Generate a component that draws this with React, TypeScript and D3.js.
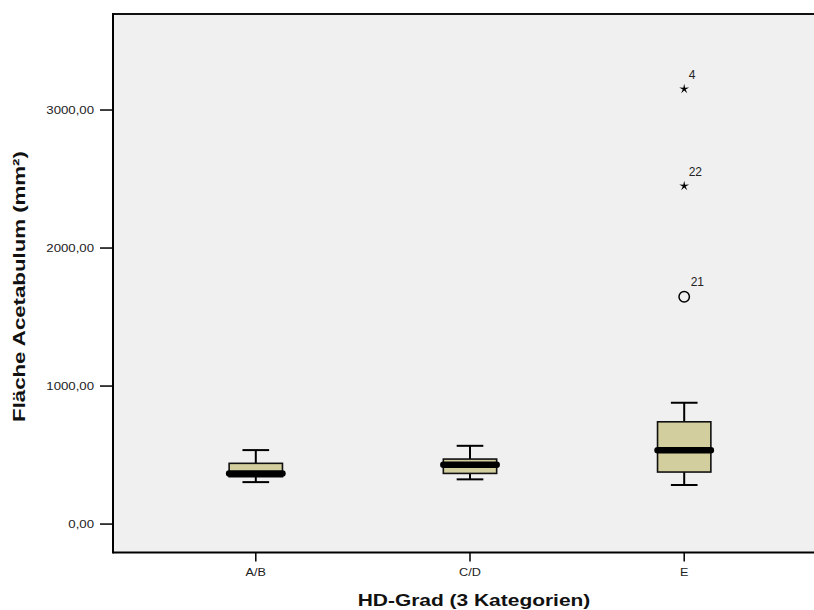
import React from "react";
import * as d3 from "d3";

const categories = ["A/B", "C/D", "E"];
const whiskerLow = [304, 324, 283];
const q1 = [343, 367, 377];
const median = [367, 430, 534];
const q3 = [440, 471, 741];
const whiskerHigh = [536, 567, 879];

const outlierCategory = ["E", "E", "E"];
const outlierValue = [1647, 2449, 3152];
const outlierLabel = ["21", "22", "4"];
const outlierKind = ["circle", "star", "star"];

const yTicks = [0, 1000, 2000, 3000];
const yTickLabels = ["0,00", "1000,00", "2000,00", "3000,00"];

const xTitle = "HD-Grad (3 Kategorien)";
const yTitle = "Fläche Acetabulum (mm²)";

const W = 814;
const H = 610;
const left = 113;
const top = 13;
const right = 827;
const bottom = 552.5;

const FONT = "'Liberation Sans', Arial, sans-serif";

function starPath(cx: number, cy: number, ro: number, ri: number) {
  const pts: [number, number][] = [];
  for (let i = 0; i < 10; i++) {
    const a = -Math.PI / 2 + (i * Math.PI) / 5;
    const r = i % 2 === 0 ? ro : ri;
    pts.push([cx + r * Math.cos(a), cy + r * Math.sin(a)]);
  }
  return d3.line()(pts) + "Z";
}

export default function App() {
  const x = d3.scalePoint<string>().domain(categories).range([left, right]).padding(2 / 3);
  const y = d3.scaleLinear().domain([-206, 3703]).range([bottom, top]);
  const step = x.step();
  const boxW = step * 0.249;
  const capW = boxW * 0.5;

  return (
    <svg
      width={W}
      height={H}
      style={{ position: "absolute", left: 0, top: 0, background: "#fff" }}
      fontFamily={FONT}
    >
      <rect x={left} y={top} width={right - left} height={bottom - top} fill="#f0f0f0" />

      {categories.map((c, i) => {
        const cx = x(c)!;
        return (
          <g key={c}>
            <line x1={cx} x2={cx} y1={y(whiskerHigh[i])} y2={y(q3[i])} stroke="#000" strokeWidth={2} />
            <line x1={cx} x2={cx} y1={y(whiskerLow[i])} y2={y(q1[i])} stroke="#000" strokeWidth={2} />
            <line x1={cx - capW / 2} x2={cx + capW / 2} y1={y(whiskerHigh[i])} y2={y(whiskerHigh[i])} stroke="#000" strokeWidth={2} />
            <line x1={cx - capW / 2} x2={cx + capW / 2} y1={y(whiskerLow[i])} y2={y(whiskerLow[i])} stroke="#000" strokeWidth={2} />
            <rect
              x={cx - boxW / 2}
              y={y(q3[i])}
              width={boxW}
              height={y(q1[i]) - y(q3[i])}
              fill="#d3ce9e"
              stroke="#111"
              strokeWidth={1.6}
            />
            <line
              x1={cx - boxW / 2}
              x2={cx + boxW / 2}
              y1={y(median[i])}
              y2={y(median[i])}
              stroke="#000"
              strokeWidth={6.5}
              strokeLinecap="round"
            />
          </g>
        );
      })}

      {outlierValue.map((v, i) => {
        const cx = x(outlierCategory[i])!;
        const cy = y(v);
        return (
          <g key={i}>
            {outlierKind[i] === "circle" ? (
              <circle cx={cx} cy={cy} r={5.2} fill="none" stroke="#000" strokeWidth={1.5} />
            ) : (
              <path d={starPath(cx, cy, 5.2, 1.5)} fill="#000" />
            )}
            <text
              x={cx + (outlierKind[i] === "circle" ? 6.5 : 4.5)}
              y={cy - 10.5}
              fontSize={12}
              fill="#222"
            >
              {outlierLabel[i]}
            </text>
          </g>
        );
      })}

      {/* frame */}
      <line x1={left} x2={right} y1={top + 1} y2={top + 1} stroke="#111" strokeWidth={2} />
      <line x1={left} x2={left} y1={top} y2={bottom + 1} stroke="#000" strokeWidth={2} />
      <line x1={left} x2={right} y1={bottom} y2={bottom} stroke="#000" strokeWidth={2} />

      {yTicks.map((t, i) => (
        <g key={t}>
          <line x1={100} x2={left} y1={y(t)} y2={y(t)} stroke="#000" strokeWidth={1.5} />
          <text
            transform={`translate(94,${y(t)}) scale(1.2,1)`}
            textAnchor="end"
            dy="0.36em"
            fontSize={11}
            fill="#222"
          >
            {yTickLabels[i]}
          </text>
        </g>
      ))}

      {categories.map((c) => (
        <g key={c}>
          <line x1={x(c)!} x2={x(c)!} y1={bottom} y2={bottom + 9} stroke="#000" strokeWidth={1.5} />
          <text
            transform={`translate(${x(c)!},576) scale(1.1,1)`}
            textAnchor="middle"
            fontSize={11.5}
            fill="#222"
          >
            {c}
          </text>
        </g>
      ))}

      <text
        transform={`translate(474,606) scale(1.31,1)`}
        textAnchor="middle"
        fontSize={16}
        fontWeight="bold"
        fill="#111"
      >
        {xTitle}
      </text>

      <text
        transform={`translate(25,286.5) rotate(-90) scale(1.39,1)`}
        textAnchor="middle"
        fontSize={16}
        fontWeight="bold"
        fill="#111"
      >
        {yTitle}
      </text>
    </svg>
  );
}
